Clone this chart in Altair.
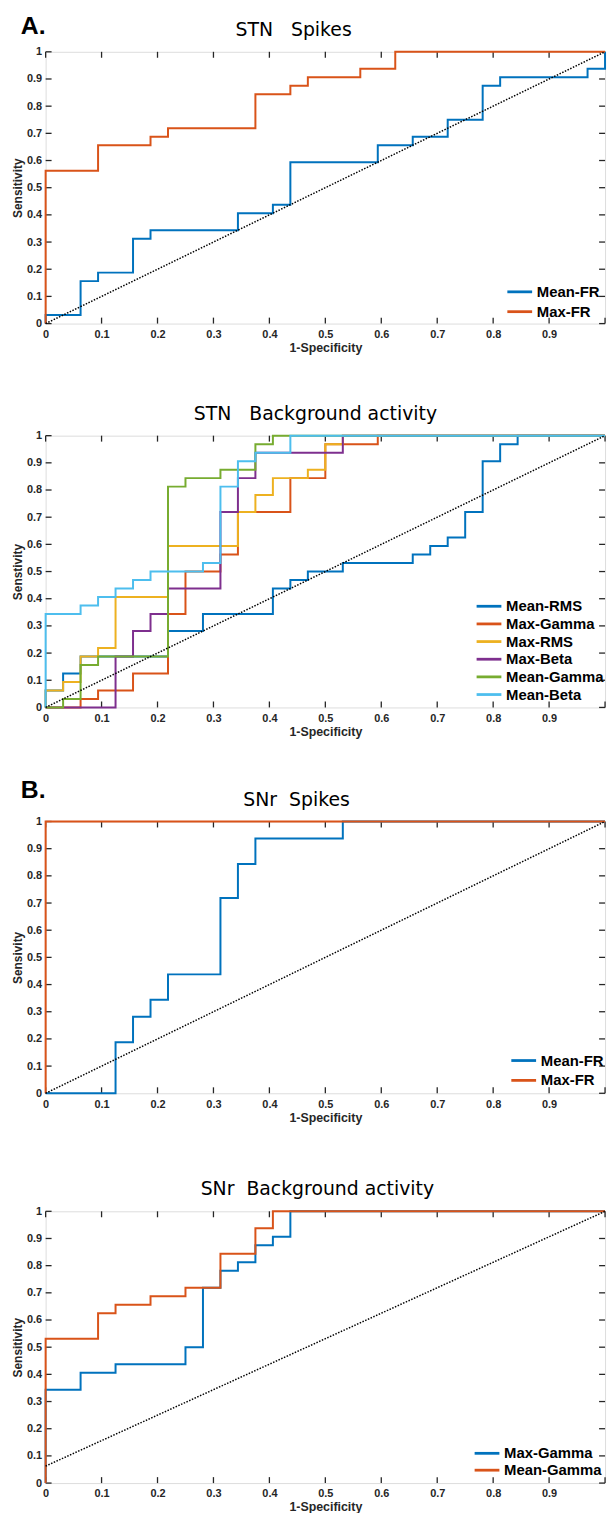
import altair as alt
import pandas as pd

# ---------------- data ----------------
TICK_VALUES = [0, 0.1, 0.2, 0.3, 0.4, 0.5, 0.6, 0.7, 0.8, 0.9, 1]
X_LABEL_VALUES = [0, 0.1, 0.2, 0.3, 0.4, 0.5, 0.6, 0.7, 0.8, 0.9]
X_TITLE = "1-Specificity"

# A. STN Spikes
p1_title = "STN\u00a0\u00a0\u00a0Spikes"
p1_ytitle = "Sensitivity"
p1_names = ["Mean-FR", "Max-FR"]
p1_colors = ["#0072BD", "#D95319"]
p1_mean_fr_fpr = [0, 0, 0.0625, 0.09375, 0.15625, 0.1875, 0.34375, 0.40625, 0.4375, 0.59375,
                  0.65625, 0.71875, 0.78125, 0.8125, 0.96875, 1]
p1_mean_fr_tpr = [0, 0.03125, 0.15625, 0.1875, 0.3125, 0.34375, 0.40625, 0.4375, 0.59375, 0.65625,
                  0.6875, 0.75, 0.875, 0.90625, 0.9375, 1]
p1_max_fr_fpr = [0, 0, 0.09375, 0.1875, 0.21875, 0.375, 0.4375, 0.46875, 0.5625, 0.625, 1]
p1_max_fr_tpr = [0, 0.5625, 0.65625, 0.6875, 0.71875, 0.84375, 0.875, 0.90625, 0.9375, 1, 1]
p1_diag_x = [0, 1]
p1_diag_y = [0, 1]

# STN Background activity
p2_title = "STN\u00a0\u00a0\u00a0Background activity"
p2_ytitle = "Senstivity"
p2_names = ["Mean-RMS", "Max-Gamma", "Max-RMS", "Max-Beta", "Mean-Gamma", "Mean-Beta"]
p2_colors = ["#0072BD", "#D95319", "#EDB120", "#7E2F8E", "#77AC30", "#4DBEEE"]
p2_mean_rms_fpr = [0, 0, 0.03125, 0.0625, 0.21875, 0.28125, 0.40625, 0.4375, 0.46875, 0.53125,
                   0.65625, 0.6875, 0.71875, 0.75, 0.78125, 0.8125, 0.84375, 1]
p2_mean_rms_tpr = [0, 0.0625, 0.125, 0.1875, 0.28125, 0.34375, 0.4375, 0.46875, 0.5, 0.53125,
                   0.5625, 0.59375, 0.625, 0.71875, 0.90625, 0.96875, 1, 1]
p2_max_gamma_fpr = [0, 0.0625, 0.09375, 0.15625, 0.21875, 0.25, 0.3125, 0.34375, 0.4375, 0.5, 0.59375, 1]
p2_max_gamma_tpr = [0, 0.03125, 0.0625, 0.125, 0.34375, 0.5, 0.5625, 0.71875, 0.84375, 0.96875, 1, 1]
p2_max_rms_fpr = [0, 0, 0.03125, 0.0625, 0.09375, 0.125, 0.21875, 0.34375, 0.375, 0.40625, 0.46875,
                  0.5, 0.53125, 1]
p2_max_rms_tpr = [0, 0.0625, 0.09375, 0.1875, 0.21875, 0.40625, 0.59375, 0.71875, 0.78125, 0.84375,
                  0.875, 0.96875, 1, 1]
p2_max_beta_fpr = [0, 0.125, 0.15625, 0.1875, 0.21875, 0.3125, 0.34375, 0.375, 0.53125, 1]
p2_max_beta_tpr = [0, 0.1875, 0.28125, 0.34375, 0.4375, 0.71875, 0.84375, 0.9375, 1, 1]
p2_mean_gamma_fpr = [0, 0.03125, 0.0625, 0.09375, 0.21875, 0.25, 0.3125, 0.375, 0.40625, 1]
p2_mean_gamma_tpr = [0, 0.03125, 0.15625, 0.1875, 0.8125, 0.84375, 0.875, 0.96875, 1, 1]
p2_mean_beta_fpr = [0, 0, 0.0625, 0.09375, 0.125, 0.15625, 0.1875, 0.28125, 0.3125, 0.34375, 0.375,
                    0.4375, 1]
p2_mean_beta_tpr = [0, 0.34375, 0.375, 0.40625, 0.4375, 0.46875, 0.5, 0.53125, 0.8125, 0.90625,
                    0.9375, 1, 1]
p2_diag_x = [0, 1]
p2_diag_y = [0, 1]

# B. SNr Spikes
p3_title = "SNr\u00a0\u00a0Spikes"
p3_ytitle = "Sensivity"
p3_names = ["Mean-FR", "Max-FR"]
p3_colors = ["#0072BD", "#D95319"]
p3_mean_fr_fpr = [0, 0.125, 0.15625, 0.1875, 0.21875, 0.3125, 0.34375, 0.375, 0.53125, 1]
p3_mean_fr_tpr = [0, 0.1875, 0.28125, 0.34375, 0.4375, 0.71875, 0.84375, 0.9375, 1, 1]
p3_max_fr_fpr = [0, 0, 1]
p3_max_fr_tpr = [0, 1, 1]
p3_diag_x = [0, 1]
p3_diag_y = [0, 1]

# SNr Background activity
p4_title = "SNr\u00a0\u00a0Background activity"
p4_ytitle = "Sensitivity"
p4_names = ["Max-Gamma", "Mean-Gamma"]
p4_colors = ["#0072BD", "#D95319"]
p4_max_gamma_fpr = [0, 0, 0.0625, 0.125, 0.25, 0.28125, 0.3125, 0.34375, 0.375, 0.40625, 0.4375, 1]
p4_max_gamma_tpr = [0, 0.34375, 0.40625, 0.4375, 0.5, 0.71875, 0.78125, 0.8125, 0.875, 0.90625, 1, 1]
p4_mean_gamma_fpr = [0, 0, 0.09375, 0.125, 0.1875, 0.25, 0.3125, 0.375, 0.40625, 1]
p4_mean_gamma_tpr = [0, 0.53125, 0.625, 0.65625, 0.6875, 0.71875, 0.84375, 0.9375, 1, 1]
p4_diag_x = [0, 1]
p4_diag_y = [0.0625, 1]

# ---------------- layout / style ----------------
W, H = 564, 274
FONT = "Liberation Sans"
AX = "#262626"


def roc_df(names, fprs, tprs):
    rows = []
    for name, fx, ty in zip(names, fprs, tprs):
        for k, (a, b) in enumerate(zip(fx, ty)):
            rows.append({"series": name, "fpr": a, "tpr": b, "k": k})
    return pd.DataFrame(rows)


def panel(title, title_x, ytitle, names, colors, fprs, tprs, diag_x, diag_y, leg,
          box_top, box_bottom, letter=None, letter_y=0):
    xs = alt.Scale(domain=[0, 1], nice=False, zero=False)
    ys = alt.Scale(domain=[0, 1], nice=False, zero=False)
    x_axis = alt.Axis(
        values=X_LABEL_VALUES, format="~g", title=X_TITLE, ticks=False, domain=False, grid=False,
        labelFont=FONT, labelFontWeight="bold", labelFontSize=11, labelColor=AX,
        labelPadding=5, labelFlush=False, labelOverlap=False,
        titleFont=FONT, titleFontWeight="bold", titleFontSize=12.5, titleColor=AX, titlePadding=2)
    y_axis = alt.Axis(
        values=TICK_VALUES, format="~g", title=ytitle, ticks=False, domain=False, grid=False,
        labelFont=FONT, labelFontWeight="bold", labelFontSize=11, labelColor=AX,
        labelPadding=4, labelFlush=False, labelOverlap=False,
        titleFont=FONT, titleFontWeight="bold", titleFontSize=12, titleColor=AX, titlePadding=2)
    df = roc_df(names, fprs, tprs)
    lx, ly, rp = leg
    curves = alt.Chart(df).mark_line(interpolate="step-after", strokeWidth=2).encode(
        x=alt.X("fpr:Q", scale=xs, axis=x_axis),
        y=alt.Y("tpr:Q", scale=ys, axis=y_axis),
        color=alt.Color("series:N", scale=alt.Scale(domain=names, range=colors), legend=alt.Legend(
            orient="none", legendX=lx, legendY=ly, title=None, padding=0,
            symbolType="M-2,0H2", symbolSize=156, symbolStrokeWidth=2.8,
            labelFont=FONT, labelFontWeight="bold", labelFontSize=15, labelColor="black",
            labelOffset=9.25, rowPadding=rp, labelLimit=300)),
        order=alt.Order("k:Q"),
    )
    ddf = pd.DataFrame({"fpr": diag_x, "tpr": diag_y})
    diag = alt.Chart(ddf).mark_line(color="black", strokeWidth=1.5, strokeDash=[1.5, 1.5]).encode(
        x=alt.X("fpr:Q", scale=xs, axis=x_axis), y=alt.Y("tpr:Q", scale=ys, axis=y_axis))
    tdf = pd.DataFrame({"fpr": TICK_VALUES, "tpr": TICK_VALUES})
    rule = dict(color=AX, strokeWidth=1.3)
    top_t = alt.Chart(tdf).mark_rule(**rule).encode(
        x=alt.X("fpr:Q", scale=xs, axis=x_axis), y=alt.value(0), y2=alt.value(6))
    bot_t = alt.Chart(tdf).mark_rule(**rule).encode(
        x=alt.X("fpr:Q", scale=xs, axis=x_axis), y=alt.value(H), y2=alt.value(H - 6))
    left_t = alt.Chart(tdf).mark_rule(**rule).encode(
        y=alt.Y("tpr:Q", scale=ys, axis=y_axis), x=alt.value(0), x2=alt.value(6))
    right_t = alt.Chart(tdf).mark_rule(**rule).encode(
        y=alt.Y("tpr:Q", scale=ys, axis=y_axis), x=alt.value(W), x2=alt.value(W - 6))
    ttl = alt.Chart(pd.DataFrame({"t": [title]})).mark_text(
        font="DejaVu Sans", fontSize=19, align="center", baseline="alphabetic", color="black"
    ).encode(text="t:N", x=alt.value(title_x), y=alt.value(-16))
    # invisible frame that fixes this panel's outer box (left edge and vertical extent)
    box = alt.Chart(pd.DataFrame({"a": [0]})).mark_rule(strokeOpacity=0, opacity=0).encode(
        x=alt.value(-45), x2=alt.value(-45), y=alt.value(-box_top), y2=alt.value(H + box_bottom))
    layers = [box, top_t, bot_t, left_t, right_t, curves, diag, ttl]
    if letter:
        layers.append(alt.Chart(pd.DataFrame({"t": [letter]})).mark_text(
            font=FONT, fontWeight="bold", fontSize=25, align="left", baseline="alphabetic",
            color="black").encode(text="t:N", x=alt.value(-25), y=alt.value(letter_y)))
    return alt.layer(*layers).properties(width=W, height=H)


p1 = panel(p1_title, 250, p1_ytitle, p1_names, p1_colors,
           [p1_mean_fr_fpr, p1_max_fr_fpr], [p1_mean_fr_tpr, p1_max_fr_tpr],
           p1_diag_x, p1_diag_y, (470, 234, 4), box_top=45, box_bottom=33,
           letter="A.", letter_y=-18)
p2 = panel(p2_title, 272, p2_ytitle, p2_names, p2_colors,
           [p2_mean_rms_fpr, p2_max_gamma_fpr, p2_max_rms_fpr, p2_max_beta_fpr, p2_mean_gamma_fpr,
            p2_mean_beta_fpr],
           [p2_mean_rms_tpr, p2_max_gamma_tpr, p2_max_rms_tpr, p2_max_beta_tpr, p2_mean_gamma_tpr,
            p2_mean_beta_tpr],
           p2_diag_x, p2_diag_y, (439, 164, 1.8), box_top=78, box_bottom=33)
p3 = panel(p3_title, 253, p3_ytitle, p3_names, p3_colors,
           [p3_mean_fr_fpr, p3_max_fr_fpr], [p3_mean_fr_tpr, p3_max_fr_tpr],
           p3_diag_x, p3_diag_y, (474, 233, 4), box_top=80, box_bottom=33,
           letter="B.", letter_y=-24)
p4 = panel(p4_title, 274, p4_ytitle, p4_names, p4_colors,
           [p4_max_gamma_fpr, p4_mean_gamma_fpr], [p4_max_gamma_tpr, p4_mean_gamma_tpr],
           p4_diag_x, p4_diag_y, (437, 236, 1), box_top=84, box_bottom=31)

chart = alt.vconcat(p1, p2, p3, p4, spacing=0).resolve_scale(
    color="independent", x="independent", y="independent"
).properties(padding=0).configure_view(stroke="#1f1f1f", strokeWidth=1.8).configure(background="white")

chart.save("out.html", embed_options={"renderer": "svg", "actions": False})
